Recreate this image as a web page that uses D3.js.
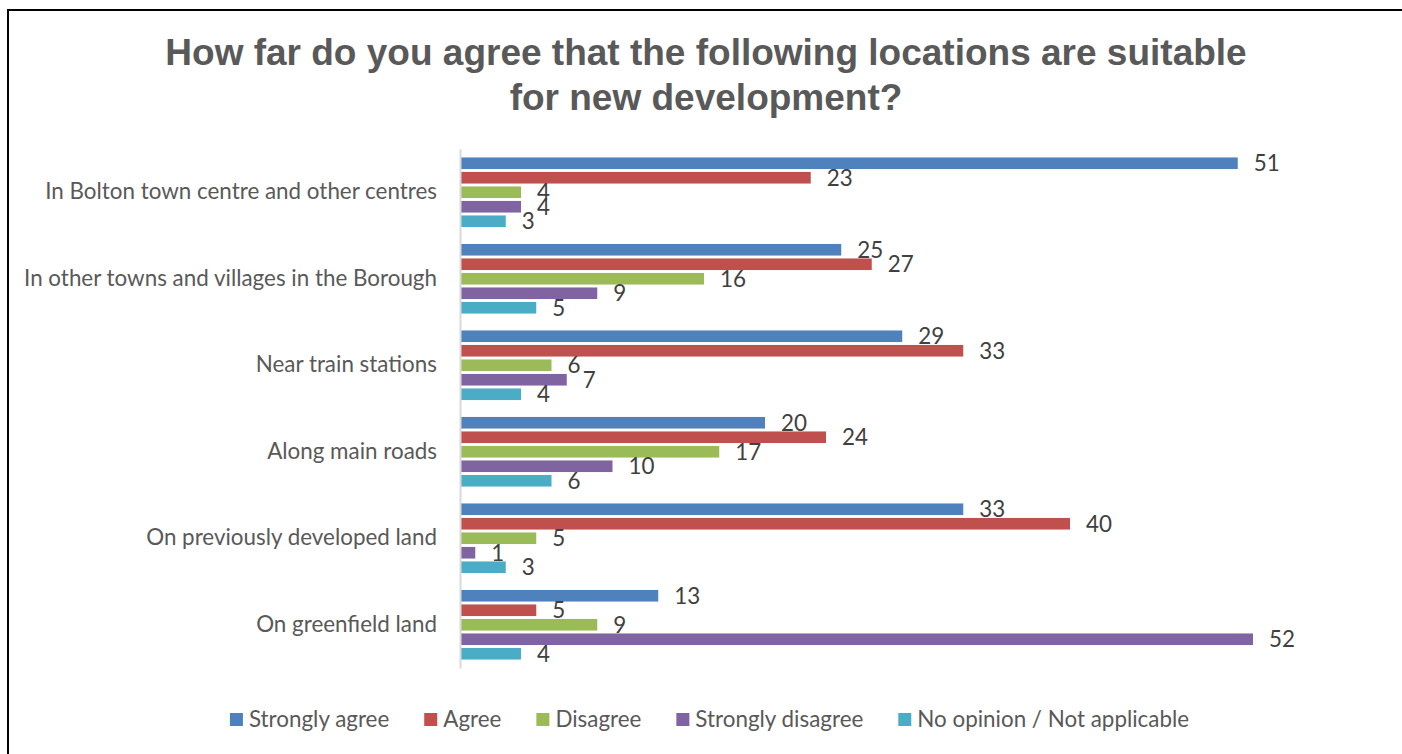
<!DOCTYPE html>
<html>
<head>
<meta charset="utf-8">
<script src="https://cdn.jsdelivr.net/npm/d3@7"></script>
<style>
  html, body { margin: 0; padding: 0; background: #fff; }
  svg { display: block; }
</style>
</head>
<body>
<svg id="chart" width="1402" height="754"></svg>
<script>
// Survey responses: share of respondents (%) per location and answer
const categories = [
  "In Bolton town centre and other centres",
  "In other towns and villages in the Borough",
  "Near train stations",
  "Along main roads",
  "On previously developed land",
  "On greenfield land"
];
const seriesNames = [
  "Strongly agree",
  "Agree",
  "Disagree",
  "Strongly disagree",
  "No opinion / Not applicable"
];
const stronglyAgree    = [51, 25, 29, 20, 33, 13];
const agree            = [23, 27, 33, 24, 40, 5];
const disagree         = [4, 16, 6, 17, 5, 9];
const stronglyDisagree = [4, 9, 7, 10, 1, 52];
const noOpinion        = [3, 5, 4, 6, 3, 4];
const colors = ["#4F81BD", "#C0504D", "#9BBB59", "#8064A2", "#4BACC6"];
const titleLines = [
  "How far do you agree that the following locations are suitable",
  "for new development?"
];

const seriesValues = [stronglyAgree, agree, disagree, stronglyDisagree, noOpinion];
const rows = [];
categories.forEach((c, ci) => {
  seriesNames.forEach((s, si) => {
    rows.push({ category: c, series: s, value: seriesValues[si][ci], color: colors[si] });
  });
});

const svg = d3.select("#chart");
const labelFont = "Lato, 'Open Sans', sans-serif";
const labelSize = 22.4;

// Outer frame (only top and left edges fall inside the view)
svg.append("rect")
  .attr("x", 8).attr("y", 10)
  .attr("width", 1500).attr("height", 900)
  .attr("fill", "none").attr("stroke", "#000").attr("stroke-width", 2);

// Title
svg.append("text")
  .attr("x", 706).attr("y", 65)
  .attr("text-anchor", "middle")
  .attr("font-family", "'Liberation Sans', Arial, sans-serif")
  .attr("font-weight", "bold")
  .attr("font-size", 37)
  .attr("fill", "#595959")
  .selectAll("tspan")
  .data(titleLines)
  .join("tspan")
  .attr("x", 706)
  .attr("dy", (d, i) => i === 0 ? 0 : 45)
  .text(d => d);

// Scales
const x = d3.scaleLinear().domain([0, 52]).range([460, 460 + 52 * 15.25]);
const y = d3.scaleBand().domain(categories).range([149, 668]);
const ySeries = d3.scaleBand().domain(seriesNames)
  .range([0, y.bandwidth()])
  .paddingInner(0.2)
  .paddingOuter(0.583);

// Bars
svg.append("g")
  .selectAll("rect")
  .data(rows)
  .join("rect")
  .attr("x", x(0))
  .attr("y", d => y(d.category) + ySeries(d.series))
  .attr("width", d => x(d.value) - x(0))
  .attr("height", ySeries.bandwidth())
  .attr("fill", d => d.color);

// Value labels
svg.append("g")
  .selectAll("text")
  .data(rows)
  .join("text")
  .attr("x", d => x(d.value) + 16)
  .attr("y", d => y(d.category) + ySeries(d.series) + ySeries.bandwidth() / 2)
  .attr("dy", "0.36em")
  .attr("font-family", labelFont)
  .attr("font-size", labelSize)
  .attr("fill", "#404040")
  .text(d => d.value);

// Category axis
const yAxis = svg.append("g")
  .attr("transform", `translate(${x(0)},0)`)
  .call(d3.axisLeft(y).tickSize(0).tickSizeOuter(0).tickPadding(23));
yAxis.select(".domain").attr("stroke", "#D9D9D9").attr("stroke-width", 2);
yAxis.selectAll(".tick text")
  .attr("font-family", labelFont)
  .attr("font-size", labelSize)
  .attr("fill", "#595959");

// Legend
const legend = svg.append("g").attr("font-family", labelFont).attr("font-size", labelSize);
const items = legend.selectAll("g")
  .data(seriesNames)
  .join("g");
items.append("rect")
  .attr("width", 13).attr("height", 13)
  .attr("y", -14)
  .attr("fill", (d, i) => colors[i]);
items.append("text")
  .attr("x", 19)
  .attr("fill", "#595959")
  .text(d => d);
let cursor = 0;
const itemGap = 35;
items.each(function () {
  const w = 19 + d3.select(this).select("text").node().getComputedTextLength();
  d3.select(this).attr("transform", `translate(${cursor},0)`);
  cursor += w + itemGap;
});
const legendWidth = cursor - itemGap;
legend.attr("transform", `translate(${709.5 - legendWidth / 2},727)`);
</script>
</body>
</html>
